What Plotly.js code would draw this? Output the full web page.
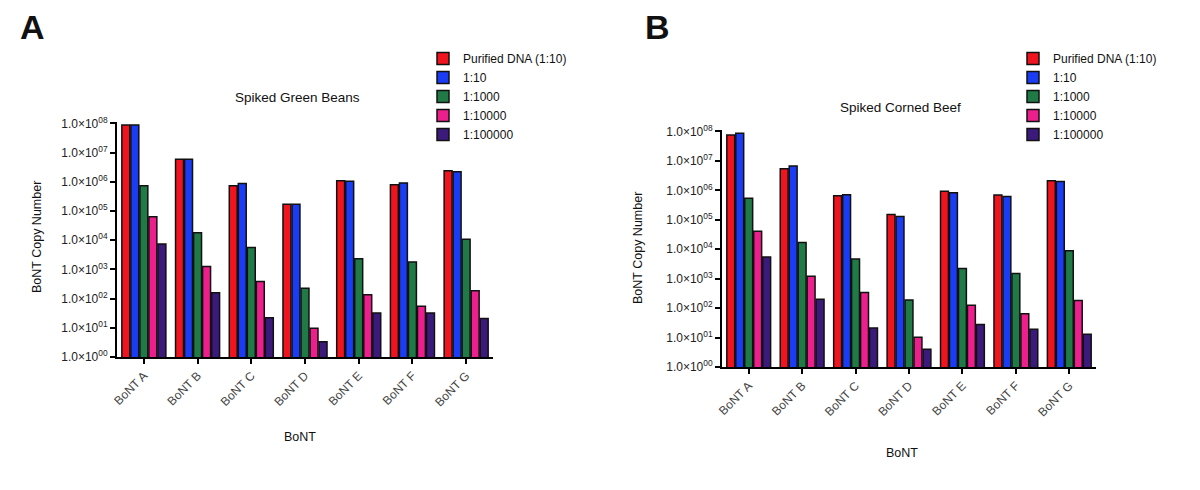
<!DOCTYPE html>
<html>
<head>
<meta charset="utf-8">
<script src="https://cdn.plot.ly/plotly-3.0.1.min.js"></script>
<style>
  body { margin: 0; background: #fff; }
  #chart { width: 1200px; height: 490px; }
</style>
</head>
<body>
<div id="chart"></div>
<script>
// toxin types on the x axis
const bonts = ["BoNT A", "BoNT B", "BoNT C", "BoNT D", "BoNT E", "BoNT F", "BoNT G"];
const seriesNames = ["Purified DNA (1:10)", "1:10", "1:1000", "1:10000", "1:100000"];
const seriesColors = ["#f0141e", "#1a3cf5", "#1f7a46", "#ec1f8c", "#3b1a7c"];

// panel A - spiked green beans (copy numbers)
const beansPurified = [8.9e7, 5.9e6, 7.4e5, 1.7e5, 1.1e6, 8.0e5, 2.4e6];
const beans10 = [8.9e7, 5.9e6, 8.7e5, 1.7e5, 1.05e6, 9.1e5, 2.2e6];
const beans1000 = [7.4e5, 1.8e4, 5.6e3, 228, 2.3e3, 1.8e3, 1.07e4];
const beans10000 = [6.4e4, 1.26e3, 386, 9.6, 135, 55, 185];
const beans100000 = [7.4e3, 158, 22, 3.3, 32, 32, 21];

// panel B - spiked corned beef
const beefPurified = [7.6e7, 5.4e6, 6.5e5, 1.5e5, 9.4e5, 7.0e5, 2.1e6];
const beef10 = [8.7e7, 6.7e6, 7.1e5, 1.3e5, 8.3e5, 6.2e5, 2.0e6];
const beef1000 = [5.4e5, 1.7e4, 4.7e3, 190, 2.2e3, 1.5e3, 8.9e3];
const beef10000 = [4.1e4, 1.2e3, 337, 10.3, 124, 65, 183];
const beef100000 = [5.5e3, 199, 21, 4.0, 28, 19, 13];

// y ticks 1.0x10^00 .. 1.0x10^08
const tickVals = [1, 10, 100, 1e3, 1e4, 1e5, 1e6, 1e7, 1e8];
const tickText = ["00", "01", "02", "03", "04", "05", "06", "07", "08"].map(
  (e) => "1.0×10<sup>" + e + "</sup>"
);

const FONT = "Liberation Sans, Arial, sans-serif";

function makeTraces(seriesList, xa, ya, legendId) {
  return seriesList.map((vals, i) => ({
    type: "bar",
    name: seriesNames[i],
    x: bonts,
    y: vals,
    xaxis: xa,
    yaxis: ya,
    legend: legendId,
    marker: {
      color: seriesColors[i],
      line: { color: "#111", width: 1.5 },
    },
  }));
}

const data = [
  ...makeTraces([beansPurified, beans10, beans1000, beans10000, beans100000], "x", "y", "legend"),
  ...makeTraces([beefPurified, beef10, beef1000, beef10000, beef100000], "x2", "y2", "legend2"),
];

function xAxis(domain, anchor) {
  return {
    domain: domain,
    anchor: anchor,
    range: [-0.5, 6.5],
    showline: true,
    linecolor: "#000",
    linewidth: 2,
    ticks: "outside",
    ticklen: 5,
    tickwidth: 2,
    tickcolor: "#000",
    tickangle: -45,
    tickfont: { size: 12, color: "#444", family: FONT },
    showgrid: false,
    zeroline: false,
    fixedrange: true,
  };
}

function yAxis(domain, anchor) {
  return {
    domain: domain,
    anchor: anchor,
    type: "log",
    range: [0, 8.05],
    tickmode: "array",
    tickvals: tickVals,
    ticktext: tickText,
    showline: true,
    linecolor: "#000",
    linewidth: 2,
    ticks: "outside",
    ticklen: 5,
    tickwidth: 2,
    tickcolor: "#000",
    tickfont: { size: 12, color: "#222", family: FONT },
    showgrid: false,
    zeroline: false,
    fixedrange: true,
  };
}

// second log axis on top of each y axis, only for the small in-between ticks
function minorAxis(overlay, anchor) {
  return {
    overlaying: overlay,
    anchor: anchor,
    side: "left",
    type: "log",
    range: [0, 8.05],
    dtick: "D1",
    ticks: "outside",
    ticklen: 3,
    tickwidth: 1,
    tickcolor: "#000",
    showticklabels: false,
    showline: false,
    showgrid: false,
    zeroline: false,
    fixedrange: true,
  };
}

const legendBase = {
  xanchor: "left",
  yanchor: "top",
  font: { size: 12, family: FONT, color: "#111" },
  bgcolor: "rgba(0,0,0,0)",
  tracegroupgap: 0,
  itemclick: false,
};

const ann = (text, x, y, size, extra) =>
  Object.assign(
    {
      text: text, x: x, y: y, xref: "paper", yref: "paper",
      xanchor: "center", yanchor: "middle", showarrow: false,
      font: { size: size, family: FONT, color: "#111" },
    },
    extra || {}
  );

const layout = {
  width: 1200,
  height: 490,
  margin: { l: 0, r: 0, t: 0, b: 0 },
  paper_bgcolor: "#fff",
  plot_bgcolor: "#fff",
  barmode: "group",
  bargap: 0.16,
  bargroupgap: 0.12,
  font: { family: FONT },
  xaxis: xAxis([117 / 1200, 493 / 1200], "y"),
  yaxis: yAxis([(490 - 357) / 490, (490 - 122) / 490], "x"),
  xaxis2: xAxis([722 / 1200, 1096 / 1200], "y2"),
  yaxis2: yAxis([(490 - 367) / 490, (490 - 130) / 490], "x2"),
  yaxis3: minorAxis("y", "x"),
  yaxis4: minorAxis("y2", "x2"),
  legend: Object.assign({}, legendBase, { x: 423 / 1200, y: (490 - 44) / 490 }),
  legend2: Object.assign({}, legendBase, { x: 1013 / 1200, y: (490 - 44) / 490 }),
  annotations: [
    ann("<b>A</b>", 32 / 1200, (490 - 27) / 490, 34),
    ann("<b>B</b>", 657 / 1200, (490 - 27) / 490, 34),
    ann("Spiked Green Beans", 297 / 1200, (490 - 97) / 490, 13.5),
    ann("Spiked Corned Beef", 900 / 1200, (490 - 108) / 490, 13.5),
    ann("BoNT", 300 / 1200, (490 - 437) / 490, 12.5),
    ann("BoNT", 902 / 1200, (490 - 453) / 490, 12.5),
    ann("BoNT Copy Number", 37 / 1200, (490 - 237) / 490, 12.5, { textangle: -90 }),
    ann("BoNT Copy Number", 638 / 1200, (490 - 248) / 490, 12.5, { textangle: -90 }),
  ],
};

Plotly.newPlot("chart", data, layout, { staticPlot: true });
</script>
</body>
</html>
